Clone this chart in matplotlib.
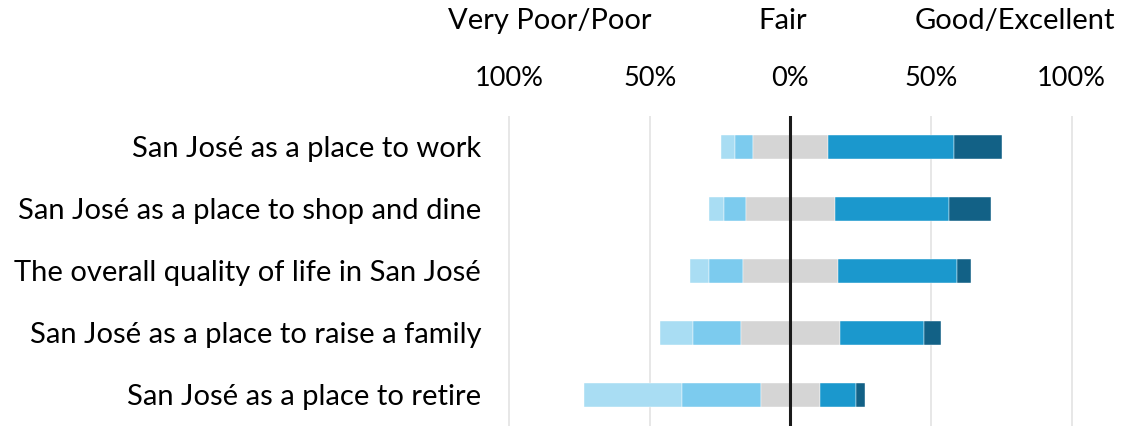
import matplotlib.pyplot as plt
import numpy as np

plt.rcParams['font.family'] = ['Lato', 'DejaVu Sans']

# Data (percent of respondents)
items = ['San José as a place to work',
         'San José as a place to shop and dine',
         'The overall quality of life in San José',
         'San José as a place to raise a family',
         'San José as a place to retire']
very_poor = [5, 5, 7, 12, 35]
poor = [6.5, 8, 12, 17, 28]
fair = [26.5, 31.5, 33.5, 35, 21]
good = [45, 40.5, 42.5, 30, 13]
excellent = [17, 15, 5, 6, 3]

tick_vals = [-100, -50, 0, 50, 100]
tick_labels = ['100%', '50%', '0%', '50%', '100%']

colors = ['#a9ddf3', '#7ccbee', '#d5d5d5', '#1b98cd', '#126186']

fig = plt.figure(figsize=(11.23, 4.26), dpi=100)
ax = fig.add_axes([0.4457, 0.0, 0.5162, 0.7277])

y = np.arange(len(items))
vp = np.array(very_poor)
p = np.array(poor)
f = np.array(fair)
g = np.array(good)
e = np.array(excellent)

# Fair is centred on zero, the rest stacks outward
left_fair = -f / 2
segments = [
    (left_fair - p - vp, vp, colors[0]),
    (left_fair - p, p, colors[1]),
    (left_fair, f, colors[2]),
    (f / 2, g, colors[3]),
    (f / 2 + g, e, colors[4]),
]
for start, width, c in segments:
    ax.barh(y, width, left=start, height=0.4, color=c,
            edgecolor='white', linewidth=0.3, zorder=2)

for v in tick_vals:
    if v != 0:
        ax.axvline(v, color='#e3e3e3', linewidth=1.2, zorder=1)
ax.axvline(0, color='#1a1a1a', linewidth=2.2, zorder=3)

ax.set_xlim(-103, 103)
ax.set_ylim(len(items) - 0.5, -0.5)

ax.set_yticks(y)
ax.set_yticklabels(items, fontsize=21)
ax.xaxis.tick_top()
ax.set_xticks(tick_vals)
ax.set_xticklabels(tick_labels, fontsize=19.5)
ax.tick_params(axis='both', length=0)
ax.tick_params(axis='x', pad=18)
ax.tick_params(axis='y', pad=14)
for s in ax.spines.values():
    s.set_visible(False)

# Column headers
fig.text(550 / 1123, 1 - 21 / 426, 'Very Poor/Poor', fontsize=21, ha='center', va='center')
fig.text(783 / 1123, 1 - 21 / 426, 'Fair', fontsize=21, ha='center', va='center')
fig.text(1015 / 1123, 1 - 21 / 426, 'Good/Excellent', fontsize=21, ha='center', va='center')

fig.savefig('out.png', dpi=100)
